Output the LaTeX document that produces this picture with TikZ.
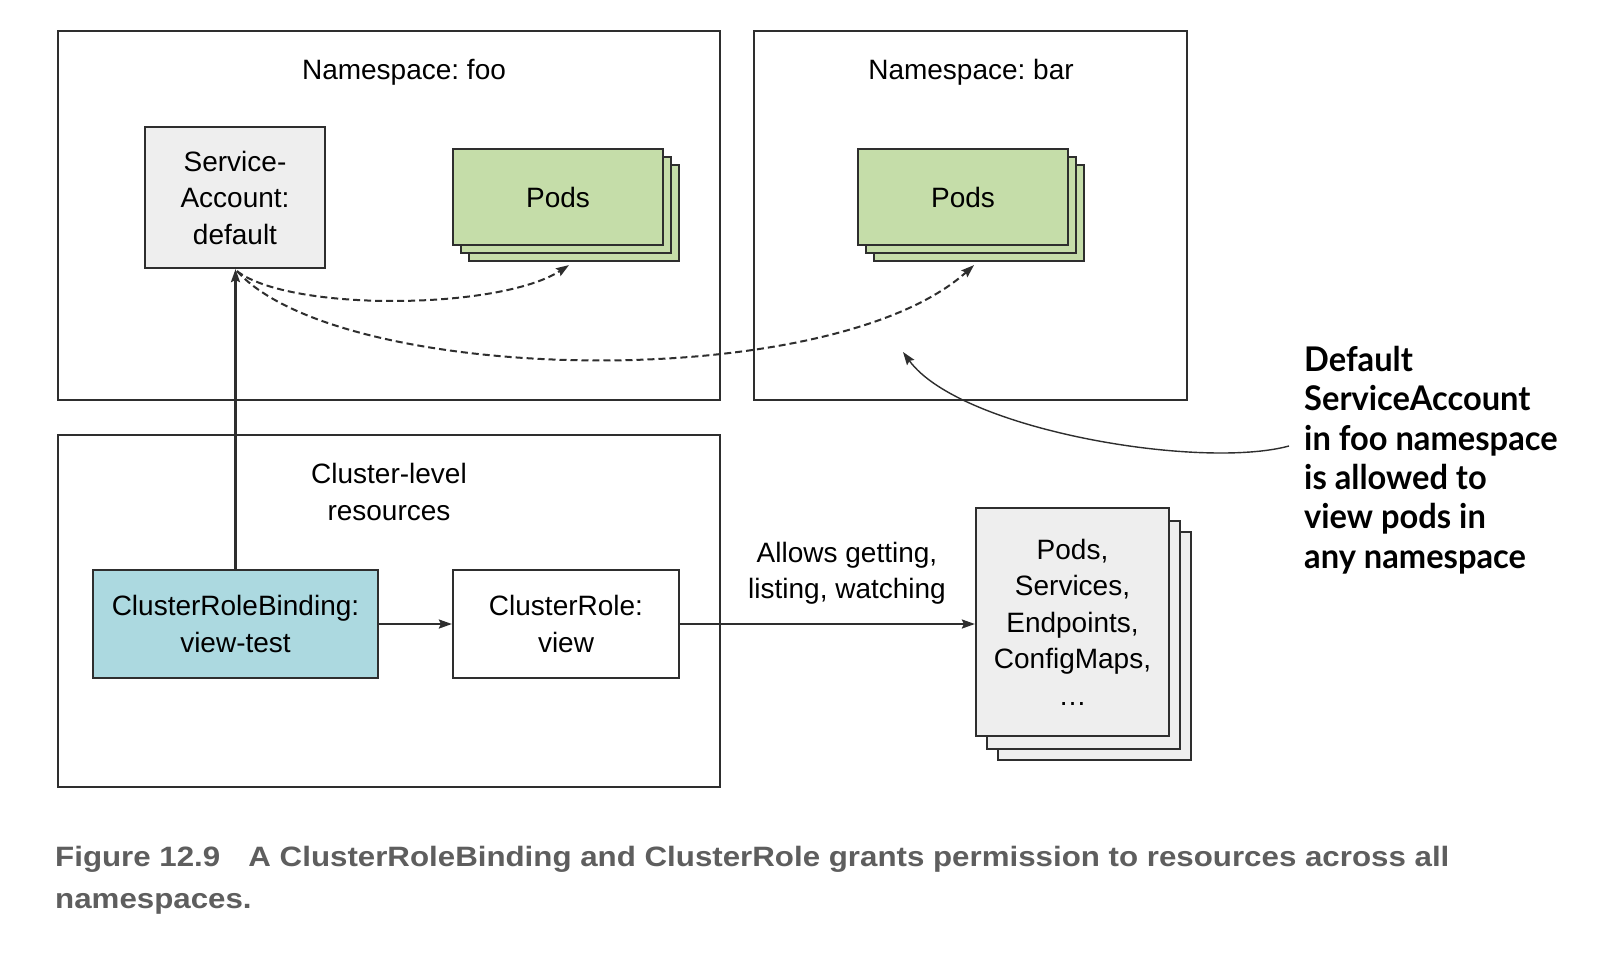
\documentclass[tikz,border=0pt]{standalone}
\usepackage{fontspec}
\setmainfont{Liberation Sans}
\newfontfamily\notefont{Lato}
\usetikzlibrary{arrows.meta}
\definecolor{linec}{HTML}{2E2E2E}
\definecolor{podgreen}{HTML}{C5DDA9}
\definecolor{lightgray}{HTML}{EEEEEE}
\definecolor{crbblue}{HTML}{ACD9E0}
\definecolor{capgray}{HTML}{5E5E5E}
\frenchspacing
\begin{document}
\begin{tikzpicture}[x=1pt,y=-1pt,
  txt/.style={font=\fontsize{28}{36.5}\selectfont, align=center, text=black, inner sep=0pt},
  container/.style={draw=linec, line width=2.2pt, inner sep=0pt},
  box/.style={draw=linec, line width=2.2pt, inner sep=0pt, txt},
  podbox/.style={box, fill=podgreen, minimum width=210pt, minimum height=96pt},
  resbox/.style={box, fill=lightgray, minimum width=193pt, minimum height=228pt},
  arr/.style={draw=linec, line width=2.1pt, -{Stealth[length=13pt,width=9pt,inset=2pt]}},
  darr/.style={arr, line width=2pt, dash pattern=on 7pt off 4pt},
  notearr/.style={draw=linec, line width=1.4pt, -{Stealth[length=13pt,width=9pt,inset=2pt]}}
]
\fill[white] (0,0) rectangle (1602,954);
\useasboundingbox (0,0) rectangle (1602,954);

% containers
\node[container, minimum width=662pt, minimum height=369pt] (foo) at (389,215.5) {};
\node[container, minimum width=433pt, minimum height=369pt] (bar) at (970.5,215.5) {};
\node[container, minimum width=662pt, minimum height=352pt] (cluster) at (389,611) {};
\node[txt] (foolbl) at (404,72) {Namespace: foo};
\node[txt] (barlbl) at (971,72) {Namespace: bar};
\node[txt] (clusterlbl) at (389,492) {Cluster-level\\resources};

% service account
\node[box, fill=lightgray, minimum width=180pt, minimum height=141pt] (sa) at (235,197.5) {Service-\\Account:\\default};

% pods foo
\node[podbox] (pfoo3) at (574,213) {};
\node[podbox] (pfoo2) at (566,205) {};
\node[podbox] (pfoo) at (558,197) {Pods};

% pods bar
\node[podbox] (pbar3) at (979,213) {};
\node[podbox] (pbar2) at (971,205) {};
\node[podbox] (pbar) at (963,197) {Pods};

% cluster level
\node[box, fill=crbblue, minimum width=285pt, minimum height=108pt] (crb) at (235.5,624) {ClusterRoleBinding:\\view-test};
\node[box, fill=white, minimum width=226pt, minimum height=108pt] (cr) at (566,624) {ClusterRole:\\view};

% resources
\node[resbox] (res3) at (1094.5,646) {};
\node[resbox] (res2) at (1083.5,635) {};
\node[resbox] (res) at (1072.5,622) {Pods,\\Services,\\Endpoints,\\ConfigMaps,\\\dots};

\node[txt] (allow) at (847,573) {Allows getting,\\listing, watching};

% connectors
\draw[arr] (crb.north) -- (crb.north |- sa.south);
\draw[arr] (crb.east) -- (cr.west);
\draw[arr] (cr.east) -- (res.west |- cr.east);
\draw[darr] ([xshift=2pt,yshift=-2pt]sa.south) .. controls (290,312) and (500,310) .. ([xshift=-5pt,yshift=-3pt]pfoo3.south);
\draw[darr] ([xshift=2pt,yshift=-2pt]sa.south) .. controls (340,385) and (830,395) .. ([xshift=-5pt,yshift=-3pt]pbar3.south);

% annotation
\node[anchor=west, inner sep=0pt, font=\notefont\bfseries\fontsize{34}{39.4}\selectfont] (note) at (1304,462)
  {\scalebox{0.96}[1]{\def\arraystretch{1}\begin{tabular}{@{}l@{}}Default\\ServiceAccount\\in foo namespace\\is allowed to\\view pods in\\any namespace\end{tabular}}};
\coordinate (tip) at (903,352);
\draw[notearr] ([xshift=-15pt,yshift=16pt]note.west) .. controls (1200,470) and (960,430) .. (tip);

% caption
\node[anchor=west, inner sep=0pt, text=capgray, font=\bfseries\fontsize{28}{42}\selectfont] (caption) at (55,879)
  {\scalebox{1.117}[1]{\def\arraystretch{1}\begin{tabular}{@{}l@{}}Figure 12.9\hspace{0.9em}A ClusterRoleBinding and ClusterRole grants permission to resources across all\\namespaces.\end{tabular}}};
\end{tikzpicture}
\end{document}
